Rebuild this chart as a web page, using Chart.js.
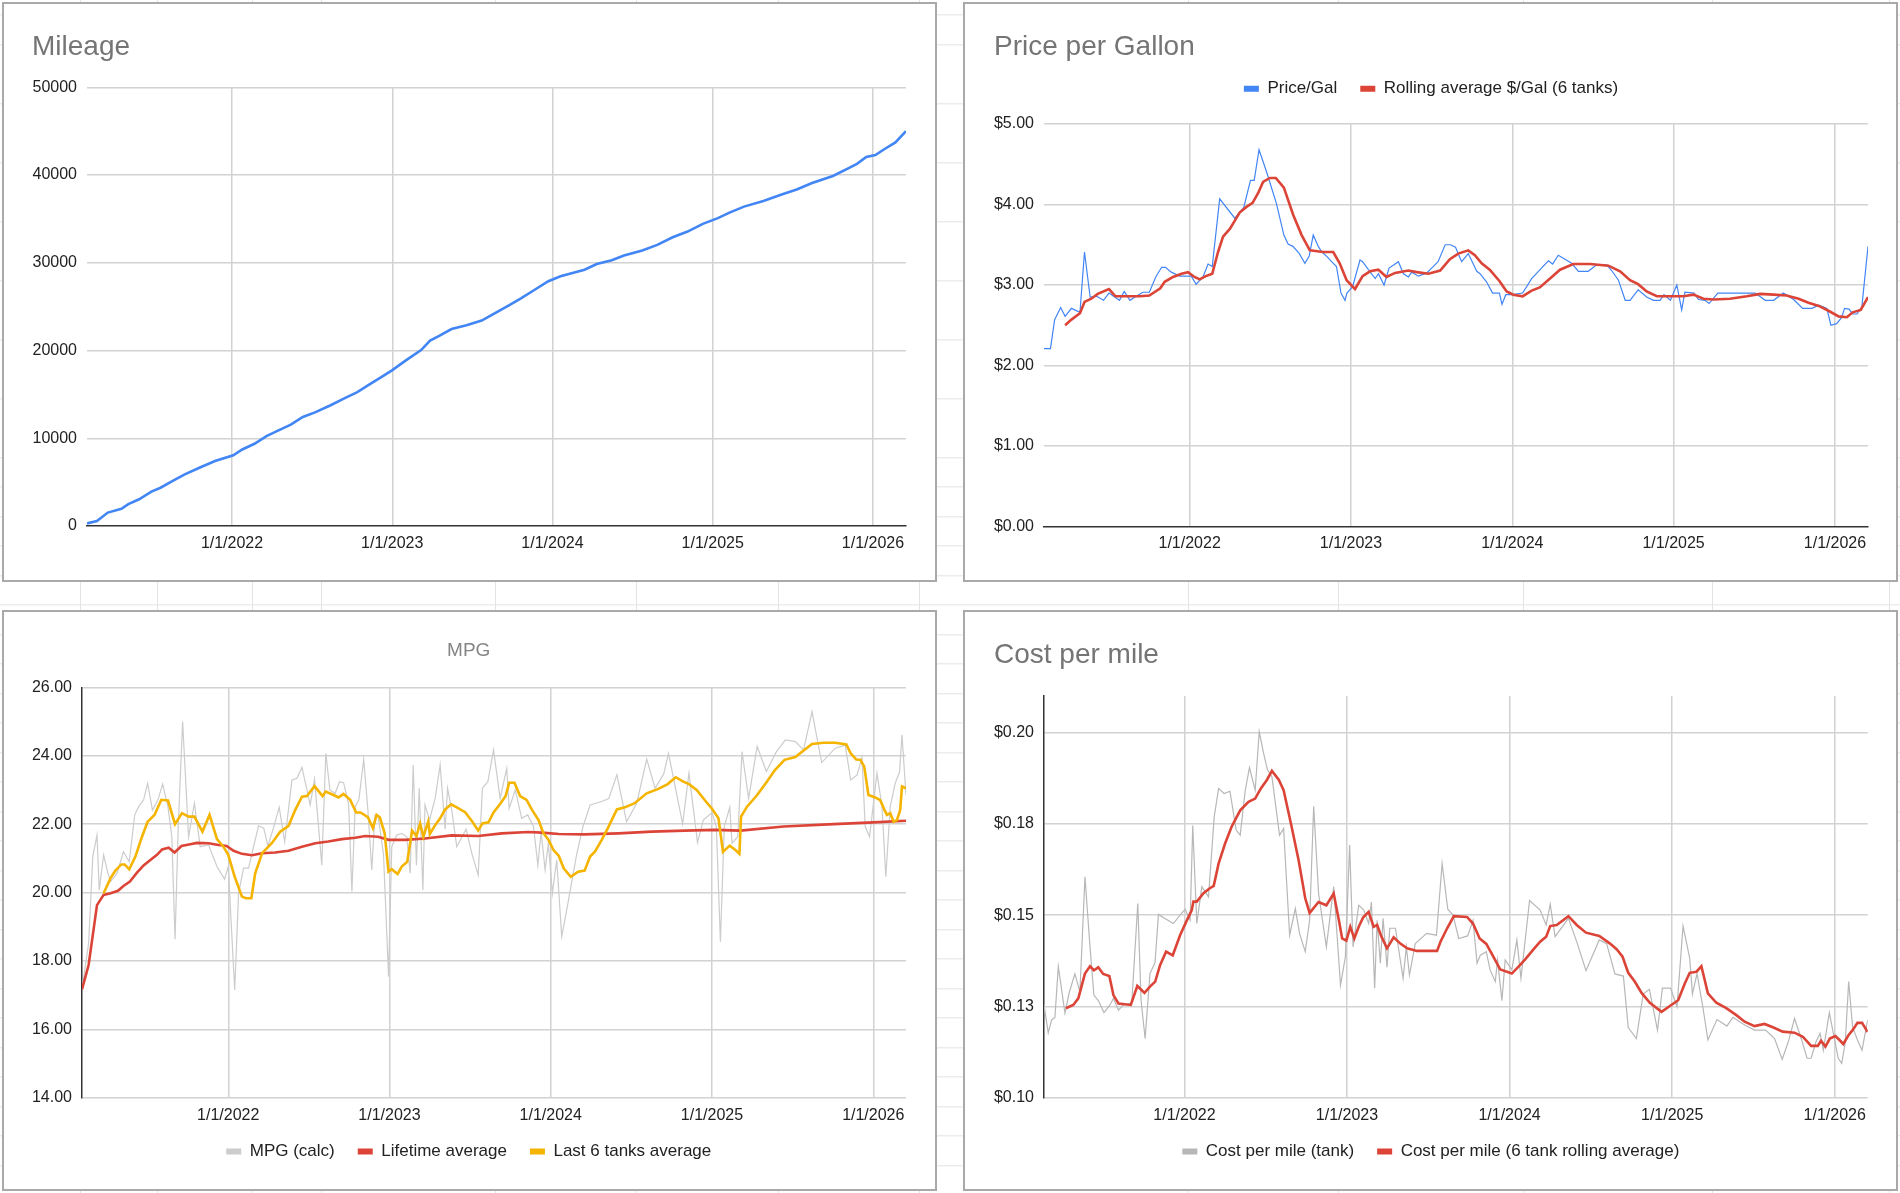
<!DOCTYPE html>
<html>
<head>
<meta charset="utf-8">
<title>Fuel log charts</title>
<script src="https://cdn.jsdelivr.net/npm/chart.js@4.4.1/dist/chart.umd.min.js"></script>
<style>
  html, body { margin: 0; padding: 0; }
  body {
    width: 1900px; height: 1193px; position: relative; overflow: hidden;
    background-color: #fff;
    background-image: repeating-linear-gradient(to bottom, #fff 0, #fff 28.5px, #e3e3e3 28.5px, #e3e3e3 29.5px);
    background-position: 0 -13.7px;
    font-family: 'Liberation Sans', Arial, sans-serif;
  }
  .col-line { position: absolute; top: 0; width: 1px; height: 1193px; background: #e3e3e3; }
  .panel { position: absolute; box-sizing: border-box; border: 2px solid #a9a9a9; background: #fff; }
  .panel canvas { display: block; }
</style>
</head>
<body>

<div class="panel" style="left:2px;top:2px;width:935px;height:580px"><canvas id="mileageChart" width="931" height="576"></canvas></div>
<div class="panel" style="left:963px;top:2px;width:935px;height:580px"><canvas id="priceChart" width="931" height="576"></canvas></div>
<div class="panel" style="left:2px;top:610px;width:935px;height:581px"><canvas id="mpgChart" width="931" height="577"></canvas></div>
<div class="panel" style="left:963px;top:610px;width:935px;height:581px"><canvas id="costChart" width="931" height="577"></canvas></div>

<script>
// x axis ticks (decimal years) shared by all four charts
const yearTicks = [2022, 2023, 2024, 2025, 2026];
const yearLabels = ['1/1/2022', '1/1/2023', '1/1/2024', '1/1/2025', '1/1/2026'];

// Mileage
const mileageDates = [
  2021.095, 2021.157, 2021.225, 2021.31, 2021.353, 2021.42, 2021.497, 2021.554, 2021.63, 2021.705,
  2021.80, 2021.894, 2022.008, 2022.064, 2022.14, 2022.215, 2022.29, 2022.367, 2022.442, 2022.518,
  2022.612, 2022.707, 2022.782, 2022.858, 2022.934, 2022.998, 2023.085, 2023.18, 2023.236, 2023.293,
  2023.37, 2023.463, 2023.558, 2023.633, 2023.728, 2023.803, 2023.879, 2023.974, 2024.05, 2024.20,
  2024.276, 2024.37, 2024.446, 2024.56, 2024.654, 2024.75, 2024.843, 2024.938, 2025.032, 2025.108,
  2025.195, 2025.316, 2025.43, 2025.524, 2025.62, 2025.75, 2025.845, 2025.90, 2025.958, 2026.015,
  2026.07, 2026.14, 2026.206
];
const mileageValues = [
  300, 570, 1530, 1960, 2490, 3050, 3920, 4360, 5140, 5890,
  6670, 7410, 8060, 8720, 9370, 10240, 10900, 11550, 12420, 12950,
  13730, 14600, 15260, 16130, 17000, 17740, 18880, 20050, 21140, 21660,
  22450, 22890, 23410, 24190, 25150, 25940, 26810, 27900, 28460, 29210,
  29860, 30300, 30820, 31390, 32040, 32910, 33560, 34440, 35090, 35740,
  36400, 37050, 37790, 38360, 39100, 39890, 40760, 41280, 42070, 42280,
  42940, 43720, 45000
];
const mileageTicks = [0, 10000, 20000, 30000, 40000, 50000];
const mileageTickLabels = ['0', '10000', '20000', '30000', '40000', '50000'];

// Price per gallon
const priceDates = [
  2021.097, 2021.137, 2021.163, 2021.20, 2021.228, 2021.267, 2021.32, 2021.348, 2021.383, 2021.424,
  2021.466, 2021.50, 2021.565, 2021.594, 2021.63, 2021.668, 2021.71, 2021.75, 2021.79, 2021.826,
  2021.85, 2021.886, 2021.938, 2022.01, 2022.04, 2022.083, 2022.114, 2022.14, 2022.186, 2022.28,
  2022.335, 2022.377, 2022.40, 2022.43, 2022.476, 2022.538, 2022.584, 2022.61, 2022.64, 2022.68,
  2022.714, 2022.741, 2022.766, 2022.797, 2022.82, 2022.853, 2022.88, 2022.91, 2022.938, 2022.963,
  2022.975, 2023.01, 2023.056, 2023.072, 2023.108, 2023.15, 2023.17, 2023.205, 2023.236, 2023.294,
  2023.325, 2023.356, 2023.376, 2023.418, 2023.47, 2023.50, 2023.54, 2023.584, 2023.617, 2023.648,
  2023.686, 2023.727, 2023.78, 2023.80, 2023.84, 2023.878, 2023.92, 2023.936, 2023.96, 2024.0,
  2024.064, 2024.12, 2024.172, 2024.224, 2024.25, 2024.285, 2024.327, 2024.368, 2024.41, 2024.47,
  2024.523, 2024.585, 2024.616, 2024.658, 2024.70, 2024.73, 2024.78, 2024.833, 2024.875, 2024.916,
  2024.94, 2024.98, 2025.02, 2025.05, 2025.07, 2025.127, 2025.154, 2025.195, 2025.22, 2025.274,
  2025.35, 2025.433, 2025.506, 2025.568, 2025.62, 2025.68, 2025.744, 2025.80, 2025.857, 2025.90,
  2025.95, 2025.975, 2026.01, 2026.04, 2026.06, 2026.087, 2026.11, 2026.137, 2026.167, 2026.205
];
const priceValues = [
  2.21, 2.21, 2.57, 2.72, 2.61, 2.71, 2.66, 3.41, 2.85, 2.86,
  2.81, 2.90, 2.81, 2.92, 2.81, 2.86, 2.91, 2.91, 3.10, 3.22,
  3.22, 3.16, 3.11, 3.11, 3.01, 3.10, 3.26, 3.23, 4.07, 3.83,
  3.96, 4.30, 4.30, 4.68, 4.41, 4.01, 3.62, 3.51, 3.48, 3.39,
  3.27, 3.36, 3.62, 3.48, 3.41, 3.35, 3.29, 3.23, 2.90, 2.81,
  2.90, 2.98, 3.31, 3.29, 3.19, 3.08, 3.14, 3.00, 3.21, 3.29,
  3.14, 3.10, 3.16, 3.11, 3.15, 3.21, 3.29, 3.50, 3.50, 3.47,
  3.29, 3.39, 3.17, 3.14, 3.04, 2.90, 2.90, 2.76, 2.88, 2.88,
  2.90, 3.08, 3.19, 3.30, 3.26, 3.37, 3.32, 3.27, 3.17, 3.17,
  3.25, 3.25, 3.18, 3.06, 2.81, 2.81, 2.94, 2.85, 2.81, 2.81,
  2.88, 2.81, 3.00, 2.69, 2.91, 2.90, 2.82, 2.81, 2.77, 2.90,
  2.90, 2.90, 2.90, 2.81, 2.81, 2.90, 2.82, 2.71, 2.71, 2.75,
  2.71, 2.50, 2.52, 2.59, 2.71, 2.70, 2.64, 2.64, 2.73, 3.48
];
const priceAvgDates = [
  2021.228, 2021.267, 2021.32, 2021.348, 2021.39, 2021.43, 2021.50, 2021.54, 2021.61, 2021.69,
  2021.75, 2021.818, 2021.845, 2021.897, 2021.95, 2021.99, 2022.03, 2022.062, 2022.10, 2022.14,
  2022.176, 2022.207, 2022.25, 2022.28, 2022.31, 2022.352, 2022.39, 2022.424, 2022.455, 2022.497,
  2022.534, 2022.584, 2022.642, 2022.694, 2022.745, 2022.828, 2022.89, 2022.93, 2022.973, 2023.025,
  2023.072, 2023.118, 2023.17, 2023.22, 2023.273, 2023.356, 2023.408, 2023.48, 2023.553, 2023.613,
  2023.665, 2023.727, 2023.768, 2023.81, 2023.86, 2023.92, 2023.965, 2024.006, 2024.064, 2024.12,
  2024.17, 2024.234, 2024.296, 2024.378, 2024.482, 2024.596, 2024.668, 2024.73, 2024.78, 2024.833,
  2024.896, 2025.0, 2025.06, 2025.123, 2025.185, 2025.247, 2025.35, 2025.454, 2025.537, 2025.62,
  2025.70, 2025.775, 2025.836, 2025.90, 2025.96, 2026.023, 2026.074, 2026.11, 2026.16, 2026.205
];
const priceAvgValues = [
  2.50, 2.57, 2.65, 2.79, 2.83, 2.89, 2.95, 2.86, 2.86, 2.86,
  2.87, 2.96, 3.04, 3.10, 3.14, 3.16, 3.10, 3.07, 3.11, 3.14,
  3.41, 3.60, 3.70, 3.80, 3.90, 3.97, 4.02, 4.14, 4.28, 4.33,
  4.33, 4.21, 3.87, 3.62, 3.43, 3.41, 3.41, 3.27, 3.06, 2.95,
  3.11, 3.17, 3.19, 3.10, 3.15, 3.18, 3.16, 3.14, 3.18, 3.32,
  3.39, 3.43, 3.37, 3.27, 3.19, 3.05, 2.92, 2.88, 2.86, 2.93,
  2.97, 3.08, 3.19, 3.26, 3.26, 3.24, 3.17, 3.06, 3.01, 2.92,
  2.86, 2.86, 2.86, 2.88, 2.83, 2.82, 2.83, 2.86, 2.89, 2.88,
  2.87, 2.83, 2.78, 2.74, 2.68, 2.61, 2.60, 2.66, 2.69, 2.85
];
const priceTicks = [0, 1, 2, 3, 4, 5];
const priceTickLabels = ['$0.00', '$1.00', '$2.00', '$3.00', '$4.00', '$5.00'];

// MPG
const mpgDates = [
  2021.093, 2021.134, 2021.16, 2021.186, 2021.20, 2021.227, 2021.254, 2021.27, 2021.31, 2021.35,
  2021.386, 2021.42, 2021.444, 2021.475, 2021.50, 2021.53, 2021.564, 2021.593, 2021.626, 2021.65,
  2021.67, 2021.69, 2021.717, 2021.754, 2021.79, 2021.826, 2021.878, 2021.93, 2021.977, 2022.0,
  2022.04, 2022.064, 2022.095, 2022.126, 2022.157, 2022.188, 2022.22, 2022.246, 2022.28, 2022.316,
  2022.35, 2022.395, 2022.426, 2022.457, 2022.488, 2022.508, 2022.535, 2022.58, 2022.605, 2022.63,
  2022.663, 2022.69, 2022.715, 2022.746, 2022.767, 2022.787, 2022.81, 2022.84, 2022.866, 2022.89,
  2022.91, 2022.93, 2022.963, 2022.994, 2023.014, 2023.045, 2023.076, 2023.107, 2023.128, 2023.147,
  2023.167, 2023.184, 2023.207, 2023.22, 2023.248, 2023.283, 2023.314, 2023.345, 2023.36, 2023.386,
  2023.417, 2023.475, 2023.51, 2023.55, 2023.576, 2023.61, 2023.645, 2023.686, 2023.727, 2023.742,
  2023.78, 2023.82, 2023.857, 2023.893, 2023.92, 2023.94, 2023.965, 2023.985, 2024.01, 2024.037,
  2024.068, 2024.11, 2024.16, 2024.20, 2024.244, 2024.316, 2024.36, 2024.41, 2024.47, 2024.533,
  2024.595, 2024.647, 2024.70, 2024.73, 2024.78, 2024.818, 2024.857, 2024.91, 2024.946, 2025.0,
  2025.027, 2025.052, 2025.076, 2025.11, 2025.124, 2025.16, 2025.186, 2025.227, 2025.28, 2025.337,
  2025.40, 2025.455, 2025.517, 2025.568, 2025.62, 2025.68, 2025.764, 2025.826, 2025.86, 2025.90,
  2025.93, 2025.95, 2025.977, 2026.023, 2026.054, 2026.078, 2026.105, 2026.136, 2026.163, 2026.178,
  2026.203
];
const mpgValues = [
  17.17, 18.51, 21.05, 21.68, 20.07, 21.10, 20.56, 20.32, 20.56, 21.19,
  20.90, 22.27, 22.51, 22.71, 23.19, 22.41, 22.71, 23.17, 22.51, 21.63,
  18.63, 21.93, 25.00, 21.63, 22.61, 21.34, 21.39, 20.76, 20.39, 20.76,
  17.15, 19.98, 20.71, 20.71, 21.34, 21.95, 21.88, 21.36, 21.88, 22.49,
  21.49, 23.29, 23.34, 23.66, 23.00, 22.56, 23.31, 20.80, 24.07, 23.00,
  22.90, 23.24, 23.21, 22.61, 20.03, 22.51, 22.71, 23.89, 22.41, 20.66,
  22.27, 22.22, 21.10, 17.54, 21.34, 21.68, 21.73, 21.63, 20.56, 23.73,
  20.80, 23.05, 20.07, 22.56, 22.12, 22.75, 23.73, 21.85, 23.05, 22.41,
  21.34, 21.85, 21.15, 20.51, 23.05, 23.24, 24.17, 22.75, 23.63, 22.46,
  23.00, 22.17, 22.27, 21.93, 20.80, 21.78, 20.66, 21.44, 19.98, 20.95,
  18.71, 19.78, 21.10, 21.93, 22.56, 22.66, 22.75, 23.44, 22.07, 22.61,
  23.90, 23.05, 23.46, 24.07, 22.90, 22.00, 23.49, 21.46, 22.12, 22.34,
  21.93, 18.56, 21.93, 22.49, 21.44, 21.63, 24.12, 22.75, 24.27, 23.54,
  24.12, 24.46, 24.41, 24.17, 25.29, 23.80, 24.22, 24.31, 23.29, 23.44,
  23.95, 21.93, 21.63, 23.49, 22.51, 20.46, 22.51, 23.19, 23.53, 24.61,
  22.85
];
const mpgLifetimeDates = [
  2021.093, 2021.134, 2021.186, 2021.227, 2021.27, 2021.316, 2021.35, 2021.39, 2021.434, 2021.475,
  2021.517, 2021.558, 2021.59, 2021.63, 2021.667, 2021.71, 2021.764, 2021.806, 2021.878, 2021.94,
  2021.99, 2022.033, 2022.085, 2022.147, 2022.21, 2022.29, 2022.374, 2022.457, 2022.54, 2022.62,
  2022.705, 2022.787, 2022.85, 2022.93, 2022.994, 2023.097, 2023.22, 2023.386, 2023.55, 2023.696,
  2023.86, 2023.944, 2024.05, 2024.21, 2024.42, 2024.626, 2024.83, 2025.02, 2025.176, 2025.444,
  2025.754, 2026.0, 2026.203
];
const mpgLifetimeValues = [
  17.17, 17.88, 19.63, 19.93, 19.98, 20.05, 20.19, 20.32, 20.58, 20.79,
  20.95, 21.10, 21.26, 21.31, 21.17, 21.36, 21.41, 21.45, 21.44, 21.39,
  21.36, 21.22, 21.13, 21.09, 21.15, 21.17, 21.22, 21.34, 21.44, 21.49,
  21.56, 21.60, 21.65, 21.63, 21.54, 21.54, 21.58, 21.67, 21.65, 21.73,
  21.77, 21.75, 21.71, 21.70, 21.73, 21.78, 21.81, 21.83, 21.81, 21.93,
  22.00, 22.05, 22.10
];
const mpgLast6Dates = [
  2021.227, 2021.27, 2021.30, 2021.337, 2021.357, 2021.386, 2021.424, 2021.465, 2021.50, 2021.543,
  2021.585, 2021.626, 2021.67, 2021.713, 2021.754, 2021.79, 2021.84, 2021.884, 2021.93, 2021.97,
  2022.0, 2022.04, 2022.085, 2022.11, 2022.143, 2022.167, 2022.21, 2022.27, 2022.322, 2022.374,
  2022.415, 2022.457, 2022.488, 2022.535, 2022.585, 2022.605, 2022.653, 2022.684, 2022.715, 2022.756,
  2022.793, 2022.82, 2022.866, 2022.897, 2022.92, 2022.94, 2022.97, 2022.994, 2023.014, 2023.05,
  2023.076, 2023.11, 2023.14, 2023.167, 2023.19, 2023.21, 2023.24, 2023.25, 2023.283, 2023.314,
  2023.345, 2023.382, 2023.417, 2023.469, 2023.514, 2023.55, 2023.576, 2023.614, 2023.645, 2023.686,
  2023.72, 2023.742, 2023.775, 2023.81, 2023.85, 2023.882, 2023.924, 2023.955, 2023.986, 2024.017,
  2024.05, 2024.08, 2024.124, 2024.17, 2024.21, 2024.244, 2024.275, 2024.316, 2024.357, 2024.41,
  2024.46, 2024.52, 2024.595, 2024.667, 2024.725, 2024.775, 2024.822, 2024.857, 2024.905, 2024.957,
  2025.0, 2025.04, 2025.068, 2025.11, 2025.145, 2025.17, 2025.18, 2025.217, 2025.28, 2025.34,
  2025.39, 2025.45, 2025.517, 2025.568, 2025.62, 2025.69, 2025.764, 2025.833, 2025.86, 2025.894,
  2025.92, 2025.944, 2025.97, 2026.012, 2026.043, 2026.07, 2026.085, 2026.105, 2026.126, 2026.147,
  2026.167, 2026.178, 2026.203
];
const mpgLast6Values = [
  19.98, 20.42, 20.64, 20.82, 20.82, 20.68, 21.05, 21.63, 22.07, 22.27,
  22.71, 22.69, 22.00, 22.32, 22.22, 22.22, 21.78, 22.27, 21.56, 21.34,
  21.10, 20.46, 19.88, 19.83, 19.83, 20.56, 21.15, 21.44, 21.78, 21.95,
  22.41, 22.80, 22.82, 23.11, 22.82, 22.95, 22.85, 22.78, 22.88, 22.71,
  22.34, 22.34, 22.20, 21.88, 22.27, 22.20, 21.73, 20.61, 20.68, 20.54,
  20.76, 20.90, 21.81, 21.65, 22.02, 21.63, 22.07, 21.71, 21.97, 22.17,
  22.43, 22.58, 22.49, 22.35, 22.07, 21.81, 22.02, 22.05, 22.34, 22.59,
  22.82, 23.21, 23.21, 22.82, 22.71, 22.43, 22.12, 21.73, 21.54, 21.24,
  21.07, 20.71, 20.46, 20.61, 20.64, 21.05, 21.20, 21.54, 21.91, 22.43,
  22.49, 22.61, 22.90, 23.03, 23.17, 23.37, 23.24, 23.17, 23.00, 22.69,
  22.45, 22.17, 21.19, 21.37, 21.24, 21.13, 22.22, 22.51, 22.85, 23.24,
  23.58, 23.88, 23.96, 24.15, 24.34, 24.38, 24.38, 24.33, 24.07, 23.89,
  23.88, 23.68, 22.85, 22.78, 22.70, 22.41, 22.27, 22.32, 22.07, 22.12,
  22.41, 23.10, 23.05
];
const mpgTicks = [14, 16, 18, 20, 22, 24, 26];
const mpgTickLabels = ['14.00', '16.00', '18.00', '20.00', '22.00', '24.00', '26.00'];

// Cost per mile
const costDates = [
  2021.136, 2021.162, 2021.183, 2021.203, 2021.224, 2021.265, 2021.29, 2021.326, 2021.357, 2021.388,
  2021.419, 2021.443, 2021.47, 2021.505, 2021.542, 2021.563, 2021.594, 2021.624, 2021.676, 2021.713,
  2021.733, 2021.758, 2021.788, 2021.819, 2021.84, 2021.88, 2021.932, 2021.973, 2022.004, 2022.035,
  2022.051, 2022.076, 2022.107, 2022.148, 2022.183, 2022.21, 2022.244, 2022.28, 2022.318, 2022.343,
  2022.374, 2022.40, 2022.435, 2022.46, 2022.487, 2022.511, 2022.538, 2022.585, 2022.61, 2022.63,
  2022.647, 2022.682, 2022.708, 2022.743, 2022.77, 2022.795, 2022.825, 2022.873, 2022.918, 2022.96,
  2022.99, 2023.016, 2023.037, 2023.072, 2023.103, 2023.133, 2023.15, 2023.17, 2023.185, 2023.205,
  2023.222, 2023.246, 2023.263, 2023.298, 2023.345, 2023.365, 2023.384, 2023.42, 2023.49, 2023.55,
  2023.585, 2023.62, 2023.652, 2023.687, 2023.742, 2023.775, 2023.80, 2023.82, 2023.857, 2023.88,
  2023.912, 2023.926, 2023.953, 2023.973, 2024.014, 2024.045, 2024.07, 2024.123, 2024.188, 2024.225,
  2024.25, 2024.28, 2024.362, 2024.417, 2024.47, 2024.552, 2024.597, 2024.648, 2024.70, 2024.73,
  2024.78, 2024.822, 2024.86, 2024.91, 2024.94, 2024.99, 2025.03, 2025.067, 2025.108, 2025.125,
  2025.153, 2025.19, 2025.22, 2025.276, 2025.337, 2025.374, 2025.446, 2025.507, 2025.575, 2025.63,
  2025.677, 2025.718, 2025.753, 2025.794, 2025.83, 2025.855, 2025.885, 2025.91, 2025.93, 2025.967,
  2025.998, 2026.022, 2026.043, 2026.065, 2026.086, 2026.11, 2026.14, 2026.168, 2026.203
];
const costValues = [
  0.1254, 0.1178, 0.1213, 0.1220, 0.1359, 0.1231, 0.1286, 0.1339, 0.1290, 0.1605,
  0.1413, 0.1281, 0.1266, 0.1233, 0.1254, 0.1272, 0.1240, 0.1254, 0.1260, 0.1532,
  0.1267, 0.1162, 0.1340, 0.1370, 0.1502, 0.1491, 0.1477, 0.1500, 0.1516, 0.1486,
  0.1745, 0.1477, 0.1578, 0.1550, 0.1769, 0.1847, 0.1833, 0.1839, 0.1733, 0.1719,
  0.1842, 0.1904, 0.1842, 0.2002, 0.1943, 0.1897, 0.1879, 0.1719, 0.1737, 0.1578,
  0.1445, 0.1518, 0.1450, 0.1400, 0.1486, 0.1798, 0.1559, 0.1413, 0.1578, 0.1308,
  0.1386, 0.1692, 0.1413, 0.1527, 0.1514, 0.1477, 0.1536, 0.1300, 0.1486, 0.1368,
  0.1491, 0.1357, 0.1464, 0.1464, 0.1327, 0.1413, 0.1336, 0.1422, 0.1450, 0.1445,
  0.1641, 0.1516, 0.1500, 0.1436, 0.1443, 0.1486, 0.1368, 0.1390, 0.1400, 0.1350,
  0.1318, 0.1377, 0.1266, 0.1377, 0.1350, 0.1432, 0.1327, 0.1540, 0.1514, 0.1473,
  0.1530, 0.1441, 0.1491, 0.1422, 0.1348, 0.1432, 0.1422, 0.1339, 0.1333, 0.1192,
  0.1162, 0.1284, 0.1297, 0.1185, 0.1300, 0.1300, 0.1249, 0.1470, 0.1382, 0.1284,
  0.1340, 0.1245, 0.1158, 0.1214, 0.1196, 0.1220, 0.1199, 0.1185, 0.1185, 0.1162,
  0.1105, 0.1158, 0.1217, 0.1162, 0.1108, 0.1108, 0.1153, 0.1176, 0.1130, 0.1233,
  0.1162, 0.1108, 0.1094, 0.1151, 0.1318, 0.1194, 0.1158, 0.1130, 0.1213
];
const costAvgDates = [
  2021.27, 2021.316, 2021.347, 2021.388, 2021.419, 2021.443, 2021.47, 2021.50, 2021.538, 2021.563,
  2021.594, 2021.67, 2021.71, 2021.754, 2021.788, 2021.82, 2021.85, 2021.887, 2021.928, 2021.973,
  2022.014, 2022.045, 2022.055, 2022.076, 2022.117, 2022.154, 2022.18, 2022.21, 2022.25, 2022.29,
  2022.343, 2022.394, 2022.435, 2022.47, 2022.507, 2022.538, 2022.58, 2022.61, 2022.655, 2022.702,
  2022.743, 2022.77, 2022.825, 2022.873, 2022.918, 2022.95, 2022.97, 2022.996, 2023.02, 2023.045,
  2023.072, 2023.10, 2023.133, 2023.164, 2023.185, 2023.21, 2023.246, 2023.287, 2023.328, 2023.37,
  2023.43, 2023.493, 2023.554, 2023.575, 2023.616, 2023.657, 2023.738, 2023.775, 2023.816, 2023.857,
  2023.90, 2023.943, 2024.014, 2024.055, 2024.096, 2024.147, 2024.188, 2024.225, 2024.25, 2024.29,
  2024.362, 2024.413, 2024.47, 2024.552, 2024.618, 2024.66, 2024.695, 2024.73, 2024.77, 2024.812,
  2024.863, 2024.935, 2024.986, 2025.037, 2025.078, 2025.108, 2025.15, 2025.18, 2025.22, 2025.272,
  2025.333, 2025.395, 2025.446, 2025.507, 2025.568, 2025.62, 2025.68, 2025.753, 2025.804, 2025.855,
  2025.896, 2025.916, 2025.943, 2025.97, 2026.004, 2026.025, 2026.053, 2026.086, 2026.11, 2026.14,
  2026.168, 2026.203
];
const costAvgValues = [
  0.1245, 0.1254, 0.1272, 0.1340, 0.1360, 0.1349, 0.1357, 0.1339, 0.1333, 0.1281,
  0.1258, 0.1254, 0.1306, 0.1287, 0.1304, 0.1318, 0.1363, 0.1400, 0.1390, 0.1445,
  0.1485, 0.1514, 0.1537, 0.1537, 0.1560, 0.1573, 0.1580, 0.1641, 0.1696, 0.1742,
  0.1787, 0.1810, 0.1819, 0.1847, 0.1870, 0.1895, 0.1871, 0.1842, 0.1751, 0.1651,
  0.1546, 0.1506, 0.1536, 0.1527, 0.1559, 0.1486, 0.1436, 0.1430, 0.1468, 0.1436,
  0.1468, 0.1494, 0.1509, 0.1468, 0.1473, 0.1443, 0.1409, 0.1439, 0.1422, 0.1409,
  0.1402, 0.1402, 0.1402, 0.1427, 0.1464, 0.1497, 0.1495, 0.1477, 0.1436, 0.1421,
  0.1386, 0.1351, 0.1340, 0.1359, 0.1379, 0.1406, 0.1427, 0.1441, 0.1470, 0.1473,
  0.1497, 0.1473, 0.1452, 0.1443, 0.1422, 0.1406, 0.1386, 0.1342, 0.1318, 0.1287,
  0.1260, 0.1235, 0.1251, 0.1267, 0.1313, 0.1342, 0.1345, 0.1360, 0.1286, 0.1260,
  0.1245, 0.1226, 0.1208, 0.1196, 0.1202, 0.1193, 0.1181, 0.1178, 0.1167, 0.1142,
  0.1142, 0.1156, 0.1140, 0.1162, 0.1169, 0.1160, 0.1147, 0.1172, 0.1185, 0.1205,
  0.1205, 0.1180
];
const costTicks = [0.10, 0.125, 0.15, 0.175, 0.20];
const costTickLabels = ['$0.10', '$0.13', '$0.15', '$0.18', '$0.20'];

// spreadsheet cell lines behind the charts
const sheetColumnLines = [80, 157, 252, 321, 495, 636, 778, 919, 1188, 1338, 1523, 1712, 1889];
sheetColumnLines.forEach(x => {
    const d = document.createElement('div');
    d.className = 'col-line';
    d.style.left = x + 'px';
    document.body.insertBefore(d, document.body.firstChild);
});

const FONT = "'Liberation Sans', Arial, Helvetica, sans-serif";
Chart.defaults.font.family = FONT;
Chart.defaults.color = '#222';

const GRID = '#d2d2d2';
const AXIS = '#333333';
const BLUE = '#4285f4';
const RED = '#db4437';
const YELLOW = '#f4b400';
const LIGHT_GRAY = '#cccccc';
const MID_GRAY = '#b7b7b7';
const TITLE_GRAY = '#757575';

function pts(xs, ys) {
    return xs.map((x, i) => ({ x: x, y: ys[i] }));
}

function lineSet(label, xs, ys, color, width, order) {
    return {
        label: label,
        data: pts(xs, ys),
        borderColor: color,
        backgroundColor: color,
        borderWidth: width,
        pointRadius: 0,
        pointHoverRadius: 0,
        tension: 0,
        fill: false,
        order: order
    };
}

function xAxis(dates, height, pad, border) {
    return {
        type: 'linear',
        bounds: 'data',
        min: dates[0],
        max: dates[dates.length - 1],
        afterBuildTicks: s => { s.ticks = yearTicks.map(v => ({ value: v })); },
        afterFit: s => {
            s.height = height;
            // the axis box is kept short so the legend sits close; let labels draw past it
            s._computeLabelArea = () => null;
        },
        ticks: {
            autoSkip: false, maxRotation: 0, padding: pad,
            font: { size: 16 }, color: '#222',
            callback: (v, i) => yearLabels[i]
        },
        grid: { color: GRID, lineWidth: 1.5, drawTicks: false },
        border: { display: border, color: AXIS, width: 1.5 }
    };
}

function yAxis(min, max, ticks, labels, width, border) {
    return {
        type: 'linear',
        min: min,
        max: max,
        afterBuildTicks: s => { s.ticks = ticks.map(v => ({ value: v })); },
        afterFit: s => { s.width = width; },
        ticks: {
            padding: 10, font: { size: 16 }, color: '#222',
            callback: (v, i) => labels[i]
        },
        // when the x axis draws the dark baseline, hide the grey line under it
        grid: {
            color: c => (!border && c.index === 0) ? 'rgba(0,0,0,0)' : GRID,
            lineWidth: 1.5, drawTicks: false
        },
        border: { display: border, color: AXIS, width: 1.5 }
    };
}

function legendOpts(position) {
    return {
        display: true,
        position: position,
        align: 'center',
        labels: {
            font: { size: 17 }, color: '#222',
            boxWidth: 15, boxHeight: 6, padding: 23,
            sort: (a, b) => a.datasetIndex - b.datasetIndex,
            generateLabels: chart => Chart.defaults.plugins.legend.labels.generateLabels(chart)
                .map(item => Object.assign(item, { lineWidth: 0 }))
        }
    };
}

function titleOpts(text, align, size, color, lineHeight, top, bottom) {
    return {
        display: true, text: text, align: align, color: color,
        font: { size: size, weight: 'normal', lineHeight: lineHeight },
        padding: { top: top, bottom: bottom }
    };
}

const common = { responsive: false, devicePixelRatio: 1, animation: false, events: [] };

// Mileage
new Chart(document.getElementById('mileageChart'), {
    type: 'line',
    data: { datasets: [lineSet('Mileage', mileageDates, mileageValues, BLUE, 2.6, 0)] },
    options: Object.assign({}, common, {
        layout: { padding: { left: 28, right: 29, top: 0, bottom: 24 } },
        plugins: {
            legend: { display: false },
            tooltip: { enabled: false },
            title: titleOpts('Mileage', 'start', 28, TITLE_GRAY, 1.2, 26.3, 23.4)
        },
        scales: {
            x: xAxis(mileageDates, 30, 8, true),
            y: yAxis(0, 50000, mileageTicks, mileageTickLabels, 55, false)
        }
    })
});

// Price per Gallon
new Chart(document.getElementById('priceChart'), {
    type: 'line',
    data: {
        datasets: [
            lineSet('Price/Gal', priceDates, priceValues, BLUE, 1.2, 2),
            lineSet('Rolling average $/Gal (6 tanks)', priceAvgDates, priceAvgValues, RED, 2.6, 1)
        ]
    },
    options: Object.assign({}, common, {
        layout: { padding: { left: 29, right: 28, top: 0, bottom: 23.5 } },
        plugins: {
            legend: legendOpts('top'),
            tooltip: { enabled: false },
            title: titleOpts('Price per Gallon', 'start', 28, TITLE_GRAY, 0.7, 33.6, 0),
            // empty block between the legend and the plot
            subtitle: {
                display: true, text: ' ', weight: 500,
                font: { size: 10, lineHeight: 1 }, padding: { top: 6.8, bottom: 0 }
            }
        },
        scales: {
            x: xAxis(priceDates, 30, 7.5, true),
            y: yAxis(0, 5, priceTicks, priceTickLabels, 50, false)
        }
    })
});

// MPG
new Chart(document.getElementById('mpgChart'), {
    type: 'line',
    data: {
        datasets: [
            lineSet('MPG (calc)', mpgDates, mpgValues, LIGHT_GRAY, 1.2, 3),
            lineSet('Lifetime average', mpgLifetimeDates, mpgLifetimeValues, RED, 2.6, 2),
            lineSet('Last 6 tanks average', mpgLast6Dates, mpgLast6Values, YELLOW, 2.6, 1)
        ]
    },
    options: Object.assign({}, common, {
        layout: { padding: { left: 27.5, right: 29, top: 0, bottom: 19 } },
        plugins: {
            legend: legendOpts('bottom'),
            tooltip: { enabled: false },
            title: titleOpts('MPG', 'center', 19, '#858585', 1.2, 27.6, 24.9)
        },
        scales: {
            x: xAxis(mpgDates, 22.3, 8.5, false),
            y: yAxis(14, 26, mpgTicks, mpgTickLabels, 50.5, true)
        }
    })
});

// Cost per mile
new Chart(document.getElementById('costChart'), {
    type: 'line',
    data: {
        datasets: [
            lineSet('Cost per mile (tank)', costDates, costValues, MID_GRAY, 1.2, 2),
            lineSet('Cost per mile (6 tank rolling average)', costAvgDates, costAvgValues, RED, 2.6, 1)
        ]
    },
    options: Object.assign({}, common, {
        layout: { padding: { left: 29, right: 28.3, top: 0, bottom: 19 } },
        plugins: {
            legend: legendOpts('bottom'),
            tooltip: { enabled: false },
            title: titleOpts('Cost per mile', 'start', 28, TITLE_GRAY, 1.2, 26.3, 24.1)
        },
        scales: {
            x: xAxis(costDates, 22.3, 8.5, false),
            y: yAxis(0.10, 0.21, costTicks, costTickLabels, 50, true)
        }
    })
});
</script>
</body>
</html>
